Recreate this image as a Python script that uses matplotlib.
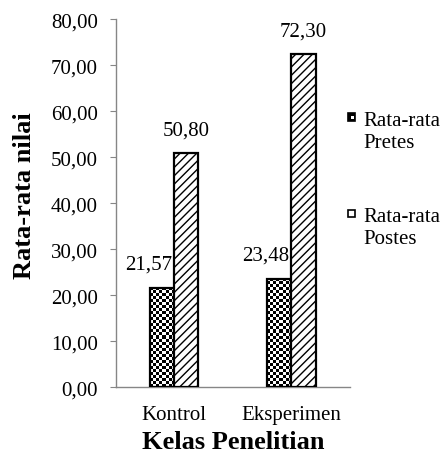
import numpy as np
import matplotlib
matplotlib.use('Agg')
import matplotlib.pyplot as plt
from matplotlib.patches import Rectangle

# mean scores per class group
categories = ['Kontrol', 'Eksperimen']
pretes = [21.57, 23.48]
postes = [50.80, 72.30]
series_labels = ['Rata-rata\nPretes', 'Rata-rata\nPostes']
yticks = np.arange(0, 80.1, 10)

plt.rcParams['font.family'] = 'Liberation Serif'
plt.rcParams['hatch.linewidth'] = 1.0
fontsize = 15
labelsize = 19


def fmt(v):
    return '{:.2f}'.format(v).replace('.', ',')


def checker(ax, patch, cell_px=3.0):
    # fill a bar with a black/white checkerboard clipped to its outline
    x0, y0 = patch.get_x(), patch.get_y()
    w, h = patch.get_width(), patch.get_height()
    bb = patch.get_window_extent()
    nx = max(1, int(round(bb.width / cell_px)))
    ny = max(1, int(round(bb.height / cell_px)))
    img = (np.add.outer(np.arange(ny), np.arange(nx)) % 2).astype(float)
    im = ax.imshow(img, cmap='gray', extent=(x0, x0 + w, y0, y0 + h),
                   interpolation='nearest', aspect='auto', zorder=2, origin='lower')
    im.set_clip_path(patch)


fig = plt.figure(figsize=(4.42, 4.56), dpi=100)
ax = fig.add_axes([0.262, 0.149, 0.530, 0.807])

x = np.arange(len(categories))
bw = 0.206
b1 = ax.bar(x - bw / 2, pretes, bw, facecolor='white', edgecolor='black', linewidth=1.6, zorder=3)
b2 = ax.bar(x + bw / 2, postes, bw, facecolor='white', edgecolor='black', hatch='////',
            linewidth=1.6, zorder=3)

ax.set_xlim(-0.5, 1.5)
ax.set_ylim(0, 80)
fig.canvas.draw()
for p in b1:
    p.set_facecolor('none')
    checker(ax, p)
ax.set_xlim(-0.5, 1.5)
ax.set_ylim(0, 80)

for xi, v in zip(x, pretes):
    ax.annotate(fmt(v), (xi - bw / 2, v), xytext=(-10, 17), textcoords='offset points',
                ha='center', va='center', fontsize=fontsize)
for xi, v in zip(x, postes):
    ax.annotate(fmt(v), (xi + bw / 2, v), xytext=(0, 17), textcoords='offset points',
                ha='center', va='center', fontsize=fontsize)

ax.set_yticks(yticks)
ax.set_yticklabels([fmt(t) for t in yticks], fontsize=fontsize)
ax.set_xticks(x)
ax.set_xticklabels(categories, fontsize=fontsize)
ax.tick_params(axis='x', length=0, pad=13)
ax.tick_params(axis='y', length=4, color='#868686', pad=9)
for s in ['top', 'right']:
    ax.spines[s].set_visible(False)
for s in ['left', 'bottom']:
    ax.spines[s].set_color('#868686')
    ax.spines[s].set_linewidth(1.0)

ax.set_ylabel('Rata-rata nilai', fontsize=labelsize, fontweight='bold')
ax.yaxis.set_label_coords(-0.34, 0.524)
ax.set_xlabel('Kelas Penelitian', fontsize=labelsize, fontweight='bold', labelpad=4)

# legend on the right
leg_y = [0.741, 0.529]
for i, (lab, yy) in enumerate(zip(series_labels, leg_y)):
    r = Rectangle((0.787, yy - 0.008), 0.016, 0.017, transform=fig.transFigure,
                  facecolor='black' if i == 0 else 'white', edgecolor='black', linewidth=1.2)
    fig.add_artist(r)
    if i == 0:
        fig.add_artist(Rectangle((0.793, yy - 0.004), 0.007, 0.007, transform=fig.transFigure,
                                 facecolor='white', edgecolor='none'))
    fig.text(0.823, yy + 0.014, lab, fontsize=fontsize, ha='left', va='top', linespacing=1.2)

fig.savefig('out.png', dpi=100)
